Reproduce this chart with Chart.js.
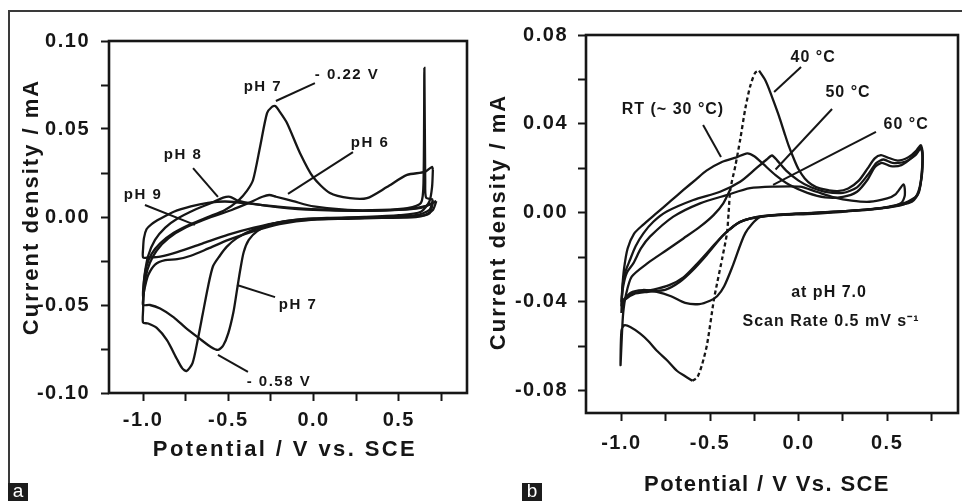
<!DOCTYPE html>
<html>
<head>
<meta charset="utf-8">
<script src="https://cdn.jsdelivr.net/npm/chart.js@4.4.1/dist/chart.umd.min.js"></script>
<style>
  html, body { margin: 0; padding: 0; background: #fff; }
  #wrap { position: relative; width: 962px; height: 501px; overflow: hidden; background: #fff; }
  #frame { position: absolute; left: 8px; top: 10px; width: 960px; height: 473px;
           border-top: 2px solid #3a3a3a; border-left: 2px solid #3a3a3a; box-sizing: border-box; }
  canvas { position: absolute; top: 0; }
  #chartA { left: 0; }
  #chartB { left: 481px; }
  .tag { position: absolute; top: 483px; width: 20px; height: 18px; background: #1c1c1c; color: #fff;
         font: 19px "Liberation Sans", Arial, sans-serif; line-height: 15px; text-align: center; }
</style>
</head>
<body>
<div id="wrap">
  <div id="frame"></div>
  <canvas id="chartA" width="481" height="501"></canvas>
  <canvas id="chartB" width="481" height="501"></canvas>
  <div class="tag" style="left:8px">a</div>
  <div class="tag" style="left:522px">b</div>
</div>
<script>
// Cyclic voltammograms: (a) effect of pH, (b) effect of temperature

// ---- panel a: pH series (potential V vs SCE, current density mA) ----
const ph7Potential = [0.70, 0.695, 0.68, 0.63, 0.50, 0.30, 0.10, -0.10, -0.25, -0.33, -0.38, -0.41, -0.43, -0.45, -0.47, -0.50, -0.53, -0.56, -0.60, -0.67, -0.75, -0.82, -0.90, -0.96, -1.00,
  -1.00, -0.995, -0.98, -0.95, -0.90, -0.82, -0.72, -0.62, -0.52, -0.44, -0.39, -0.355, -0.314, -0.273, -0.245, -0.225, -0.20, -0.156, -0.08, -0.003, 0.096, 0.213, 0.313, 0.43, 0.548, 0.653, 0.694, 0.70];
const ph7Current = [0.027, 0.017, 0.009, 0.003, 0.001, 0.0, -0.0005, -0.0015, -0.004, -0.008, -0.013, -0.020, -0.030, -0.042, -0.054, -0.066, -0.073, -0.0755, -0.074, -0.069, -0.063, -0.057, -0.052, -0.050, -0.050,
  -0.047, -0.037, -0.028, -0.021, -0.015, -0.009, -0.004, 0.0, 0.004, 0.0095, 0.015, 0.021, 0.0398, 0.059, 0.0625, 0.063, 0.060, 0.0534, 0.0364, 0.0227, 0.0136, 0.0107, 0.0107, 0.017, 0.0239, 0.0256, 0.0284, 0.027];

const ph6Potential = [0.70, 0.68, 0.60, 0.40, 0.20, 0.00, -0.20, -0.35, -0.45, -0.51, -0.55, -0.59, -0.62, -0.65, -0.68, -0.71, -0.745, -0.77, -0.80, -0.86, -0.92, -0.97, -1.00,
  -1.00, -0.995, -0.985, -0.96, -0.92, -0.85, -0.75, -0.60, -0.48, -0.38, -0.30, -0.26, -0.22, -0.12, 0.00, 0.20, 0.40, 0.55, 0.63, 0.645, 0.65, 0.655, 0.66, 0.70];
const ph6Current = [0.010, 0.004, 0.001, 0.0, -0.0005, -0.001, -0.003, -0.007, -0.012, -0.017, -0.022, -0.028, -0.040, -0.055, -0.070, -0.083, -0.0875, -0.086, -0.081, -0.070, -0.063, -0.0605, -0.060,
  -0.053, -0.042, -0.034, -0.026, -0.019, -0.012, -0.006, 0.0, 0.004, 0.008, 0.0115, 0.0125, 0.0115, 0.009, 0.006, 0.004, 0.004, 0.005, 0.008, 0.020, 0.0847, 0.020, 0.011, 0.010];

const ph8Potential = [0.72, 0.70, 0.65, 0.50, 0.30, 0.00, -0.20, -0.35, -0.50, -0.62, -0.72, -0.80, -0.87, -0.93, -0.97, -0.99, -1.00,
  -1.00, -0.99, -0.97, -0.93, -0.87, -0.80, -0.70, -0.60, -0.53, -0.49, -0.45, -0.35, -0.20, 0.00, 0.30, 0.55, 0.65, 0.72];
const ph8Current = [0.009, 0.004, 0.001, 0.0, -0.0005, -0.0015, -0.004, -0.008, -0.013, -0.018, -0.022, -0.024, -0.0245, -0.027, -0.033, -0.040, -0.045,
  -0.042, -0.032, -0.022, -0.013, -0.006, -0.001, 0.004, 0.008, 0.011, 0.0115, 0.0095, 0.0075, 0.0055, 0.004, 0.0035, 0.0045, 0.006, 0.009];

const ph9Potential = [0.70, 0.68, 0.60, 0.40, 0.20, 0.00, -0.20, -0.35, -0.50, -0.65, -0.80, -0.90, -0.97, -1.00,
  -1.00, -0.995, -0.98, -0.95, -0.90, -0.82, -0.72, -0.62, -0.52, -0.42, -0.30, -0.10, 0.10, 0.30, 0.50, 0.62, 0.68, 0.70];
const ph9Current = [0.008, 0.002, 0.0, -0.0005, -0.001, -0.0015, -0.003, -0.006, -0.010, -0.015, -0.020, -0.0225, -0.023, -0.023,
  -0.018, -0.012, -0.007, -0.004, -0.001, 0.003, 0.006, 0.008, 0.0088, 0.008, 0.0068, 0.005, 0.004, 0.0035, 0.004, 0.005, 0.007, 0.008];

// ---- panel b: temperature series at pH 7.0 ----
const rtPotential = [-1.00, -0.995, -0.985, -0.965, -0.93, -0.88, -0.80, -0.72, -0.65, -0.58, -0.52, -0.43, -0.35, -0.29, -0.25, -0.20, -0.13, -0.05, 0.05, 0.15, 0.25, 0.33, 0.39, 0.43, 0.47, 0.52, 0.58, 0.64, 0.69,
  0.70, 0.695, 0.67, 0.60, 0.45, 0.25, 0.05, -0.10, -0.22, -0.30, -0.37, -0.42, -0.46, -0.50, -0.56, -0.64, -0.72, -0.80, -0.88, -0.95, -0.99, -1.00];
const rtCurrent = [-0.045, -0.034, -0.025, -0.016, -0.0095, -0.0055, 0.0, 0.0055, 0.0103, 0.015, 0.019, 0.023, 0.025, 0.0268, 0.0255, 0.022, 0.017, 0.0125, 0.009, 0.007, 0.0072, 0.0095, 0.015, 0.0205, 0.0225, 0.021, 0.0215, 0.025, 0.0295,
  0.026, 0.016, 0.008, 0.0045, 0.002, 0.0005, -0.0005, -0.001, -0.002, -0.009, -0.0235, -0.033, -0.0375, -0.0395, -0.041, -0.0405, -0.0375, -0.0355, -0.0347, -0.036, -0.040, -0.045];

const t50Potential = [-1.00, -0.995, -0.98, -0.952, -0.92, -0.876, -0.82, -0.744, -0.594, -0.443, -0.33, -0.24, -0.18, -0.15, -0.12, -0.07, 0.00, 0.07, 0.15, 0.25, 0.33, 0.39, 0.44, 0.48, 0.53, 0.60, 0.66, 0.69,
  0.70, 0.69, 0.66, 0.58, 0.40, 0.20, 0.00, -0.15, -0.27, -0.35, -0.43, -0.52, -0.60, -0.67, -0.75, -0.85, -0.93, -0.98, -1.00];
const t50Current = [-0.042, -0.034, -0.027, -0.0212, -0.015, -0.0092, -0.004, 0.0006, 0.0058, 0.0095, 0.014, 0.020, 0.024, 0.0258, 0.0235, 0.019, 0.0145, 0.0115, 0.0095, 0.009, 0.0115, 0.017, 0.0225, 0.024, 0.0225, 0.023, 0.026, 0.029,
  0.025, 0.014, 0.007, 0.0035, 0.0015, 0.0005, -0.0003, -0.001, -0.0025, -0.005, -0.0105, -0.019, -0.026, -0.031, -0.0345, -0.0355, -0.0365, -0.039, -0.042];

const t60Potential = [-1.00, -0.99, -0.97, -0.933, -0.89, -0.839, -0.707, -0.556, -0.406, -0.274, -0.142, 0.008, 0.10, 0.20, 0.30, 0.40, 0.50, 0.547, 0.593,
  0.60, 0.58, 0.50, 0.30, 0.10, -0.10, -0.25, -0.34, -0.42, -0.50, -0.58, -0.65, -0.73, -0.82, -0.90, -0.96, -1.00];
const t60Current = [-0.040, -0.033, -0.027, -0.0227, -0.016, -0.0107, -0.0017, 0.0043, 0.008, 0.0111, 0.0118, 0.0118, 0.0095, 0.007, 0.0055, 0.005, 0.0065, 0.0083, 0.0128,
  0.008, 0.0045, 0.0025, 0.001, 0.0, -0.0008, -0.002, -0.0045, -0.0095, -0.0165, -0.0235, -0.029, -0.0325, -0.0345, -0.0355, -0.037, -0.040];

// 40 °C: solid anodic peak + return sweep, solid reduction tail, dashed steep section
const t40Potential = [-0.223, -0.19, -0.167, -0.14, -0.111, -0.08, -0.055, -0.025, 0.0, 0.035, 0.073, 0.12, 0.168, 0.22, 0.28, 0.34, 0.39, 0.43, 0.465, 0.50, 0.56, 0.62, 0.665, 0.69,
  0.70, 0.695, 0.68, 0.64, 0.50, 0.30, 0.10, -0.10, -0.25, -0.33, -0.39];
const t40Current = [0.064, 0.060, 0.0558, 0.050, 0.0436, 0.036, 0.030, 0.024, 0.0196, 0.0155, 0.0128, 0.011, 0.0102, 0.0098, 0.011, 0.0145, 0.020, 0.0245, 0.026, 0.025, 0.0235, 0.025, 0.028, 0.0305,
  0.027, 0.018, 0.0095, 0.005, 0.0025, 0.001, 0.0, -0.0008, -0.0022, -0.004, -0.0075];
const t40TailPotential = [-0.60, -0.64, -0.687, -0.74, -0.80, -0.85, -0.894, -0.95, -0.985, -1.00, -1.005, -0.998, -0.99, -0.975, -0.942, -0.85, -0.744, -0.65, -0.556, -0.48, -0.425, -0.385];
const t40TailCurrent = [-0.0755, -0.0735, -0.071, -0.0665, -0.062, -0.0575, -0.0543, -0.0513, -0.0506, -0.053, -0.0685, -0.056, -0.045, -0.037, -0.0287, -0.0225, -0.0167, -0.0115, -0.0062, -0.001, 0.0043, 0.0106];
const t40DashPotential = [-0.60, -0.572, -0.544, -0.516, -0.478, -0.46, -0.43, -0.404, -0.395, -0.385, -0.357, -0.329, -0.301, -0.273, -0.245, -0.223];
const t40DashCurrent = [-0.0755, -0.074, -0.068, -0.0589, -0.039, -0.0317, -0.020, -0.009, 0.0, 0.0106, 0.0211, 0.0332, 0.0468, 0.057, 0.063, 0.064];

// ---- axes ----
const potentialTicks = [-1.0, -0.75, -0.5, -0.25, 0, 0.25, 0.5, 0.75];
const potentialTickLabels = ['-1.0', '', '-0.5', '', '0.0', '', '0.5', ''];
const aCurrentTicks = [-0.10, -0.075, -0.05, -0.025, 0, 0.025, 0.05, 0.075, 0.10];
const aCurrentTickLabels = ['-0.10', '', '-0.05', '', '0.00', '', '0.05', '', '0.10'];
const bCurrentTicks = [-0.08, -0.06, -0.04, -0.02, 0, 0.02, 0.04, 0.06, 0.08];
const bCurrentTickLabels = ['-0.08', '', '-0.04', '', '0.00', '', '0.04', '', '0.08'];

// ---- annotations (data coordinates) ----
const phNotes = ['pH 7', '- 0.22 V', 'pH 6', 'pH 8', 'pH 9', 'pH 7', '- 0.58 V'];
const phNoteAt = [[-0.297, 0.0739], [0.196, 0.0807], [0.331, 0.042], [-0.766, 0.0352], [-1.0, 0.0125], [-0.0915, -0.050], [-0.203, -0.0938]];
const phLeaders = [[-0.221, 0.0659, 0.008, 0.0761], [-0.150, 0.0131, 0.231, 0.0369], [-0.707, 0.0278, -0.561, 0.0114],
  [-0.989, 0.0068, -0.696, -0.0045], [-0.449, -0.0386, -0.226, -0.0455], [-0.561, -0.0784, -0.385, -0.088]];
const tempNotes = ['40 \u00B0C', '50 \u00B0C', '60 \u00B0C', 'RT (~ 30 \u00B0C)', 'at pH 7.0', 'Scan Rate 0.5 mV s\u207B\u00B9'];
const tempNoteAt = [[0.082, 0.0697], [0.279, 0.0539], [0.607, 0.0395], [-0.709, 0.0463], [0.172, -0.036], [0.183, -0.049]];
const tempLeaders = [[-0.138, 0.0544, 0.014, 0.0656], [0.189, 0.0467, -0.13, 0.0195], [0.437, 0.0364, -0.144, 0.0126], [-0.539, 0.0395, -0.438, 0.0251]];

const INK = '#161616';
const FONT = '"Liberation Sans", Arial, Helvetica, sans-serif';

function curve(xs, ys, dash) {
  return {
    data: xs.map((x, i) => ({ x: x, y: ys[i] })),
    showLine: true,
    fill: false,
    borderColor: INK,
    borderWidth: 2.3,
    borderDash: dash || [],
    pointRadius: 0,
    tension: 0.25
  };
}

// box, leader lines, notes and axis titles
function makeFrame(cfg) {
  return {
    id: 'cvFrame',
    beforeDraw(chart) { chart.ctx.letterSpacing = '1.5px'; },
    afterDraw(chart) {
      const { ctx, chartArea: a } = chart;
      const sx = chart.scales.x, sy = chart.scales.y;
      const px = v => sx.getPixelForValue(v);
      const py = v => sy.getPixelForValue(v);
      ctx.save();
      ctx.strokeStyle = INK;
      ctx.fillStyle = INK;
      ctx.lineWidth = 2.6;
      ctx.strokeRect(a.left, a.top, a.right - a.left, a.bottom - a.top);

      ctx.lineWidth = 2;
      cfg.leaders.forEach(l => {
        ctx.beginPath();
        ctx.moveTo(px(l[0]), py(l[1]));
        ctx.lineTo(px(l[2]), py(l[3]));
        ctx.stroke();
      });

      ctx.textAlign = 'center';
      ctx.textBaseline = 'middle';
      ctx.font = 'bold ' + cfg.noteSize + 'px ' + FONT;
      ctx.letterSpacing = cfg.noteSpacing + 'px';
      cfg.notes.forEach((t, i) => ctx.fillText(t, px(cfg.noteAt[i][0]), py(cfg.noteAt[i][1])));

      ctx.font = 'bold 22px ' + FONT;
      ctx.letterSpacing = cfg.xTitleSpacing + 'px';
      ctx.fillText(cfg.xTitle, (a.left + a.right) / 2 + cfg.xTitleDx, a.bottom + cfg.xTitleDy);
      ctx.letterSpacing = '2px';
      ctx.translate(a.left + cfg.yTitleDx, (a.top + a.bottom) / 2 + cfg.yTitleDy);
      ctx.rotate(-Math.PI / 2);
      ctx.fillText('Current density / mA', 0, 0);
      ctx.restore();
    }
  };
}

function axis(min, max, ticks, labels, pad, size) {
  return {
    type: 'linear',
    min: min,
    max: max,
    afterBuildTicks: s => { s.ticks = ticks.map(v => ({ value: v })); },
    afterFit: s => {
      if (s.isHorizontal()) { s.height = size; } else { s.width = size; }
    },
    border: { display: false },
    grid: { drawOnChartArea: false, drawTicks: true, tickLength: 8, tickWidth: 2, tickColor: INK, color: INK },
    ticks: {
      callback: (v, i) => labels[i],
      color: INK,
      font: { family: FONT, size: 20, weight: 'bold' },
      padding: pad,
      maxRotation: 0,
      minRotation: 0,
      autoSkip: false
    }
  };
}

function cvChart(id, datasets, padding, xAxis, yAxis, frame) {
  return new Chart(document.getElementById(id), {
    type: 'scatter',
    data: { datasets: datasets },
    options: {
      responsive: false,
      animation: false,
      layout: { padding: padding },
      plugins: { legend: { display: false }, tooltip: { enabled: false } },
      scales: { x: xAxis, y: yAxis }
    },
    plugins: [makeFrame(frame)]
  });
}

cvChart('chartA',
  [curve(ph9Potential, ph9Current), curve(ph8Potential, ph8Current), curve(ph6Potential, ph6Current), curve(ph7Potential, ph7Current)],
  { left: 0, top: 41, right: 14, bottom: 0 },
  axis(-1.2, 0.9, potentialTicks, potentialTickLabels, 7, 108),
  axis(-0.10, 0.10, aCurrentTicks, aCurrentTickLabels, 11, 109),
  { leaders: phLeaders, notes: phNotes, noteAt: phNoteAt, noteSize: 15, noteSpacing: 1.5,
    xTitle: 'Potential / V vs. SCE', xTitleSpacing: 2.4, xTitleDx: -3, xTitleDy: 57, yTitleDx: -77, yTitleDy: -10 });

cvChart('chartB',
  [curve(t60Potential, t60Current), curve(t50Potential, t50Current), curve(rtPotential, rtCurrent),
   curve(t40Potential, t40Current), curve(t40TailPotential, t40TailCurrent), curve(t40DashPotential, t40DashCurrent, [4, 3])],
  { left: 0, top: 35, right: 4, bottom: 0 },
  axis(-1.2, 0.9, potentialTicks, potentialTickLabels, 10, 88),
  axis(-0.09, 0.08, bCurrentTicks, bCurrentTickLabels, 10, 105),
  { leaders: tempLeaders, notes: tempNotes, noteAt: tempNoteAt, noteSize: 16, noteSpacing: 1,
    xTitle: 'Potential / V Vs. SCE', xTitleSpacing: 1.4, xTitleDx: -5, xTitleDy: 72, yTitleDx: -87, yTitleDy: -2 });
</script>
</body>
</html>
